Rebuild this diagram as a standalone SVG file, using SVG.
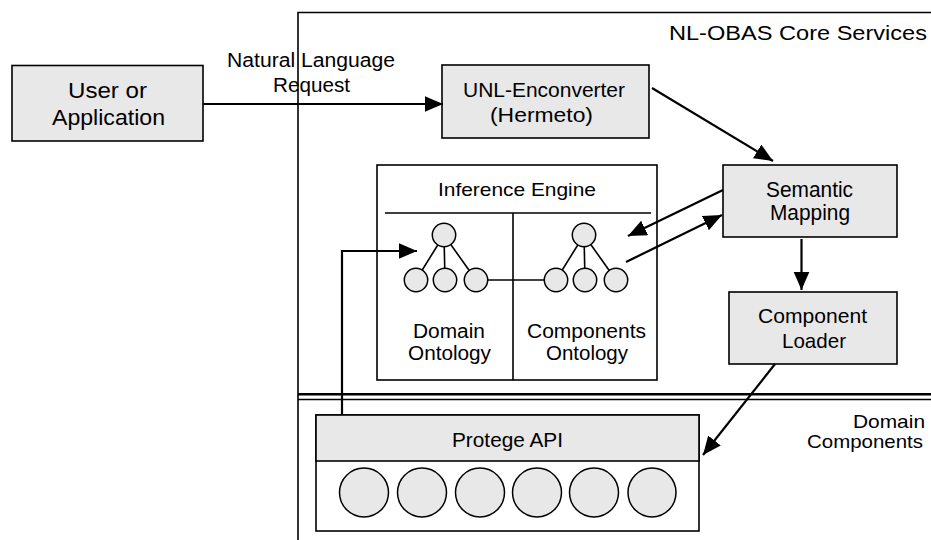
<svg xmlns="http://www.w3.org/2000/svg" width="931" height="540" viewBox="0 0 931 540">
  <style>
    .box{fill:#e8e8e8;stroke:#000;stroke-width:1.6}
    .plain{fill:#fff;stroke:#000;stroke-width:1.6}
    .node{fill:#e8e8e8;stroke:#000;stroke-width:1.5}
    .edge{stroke:#000;stroke-width:1.6;fill:none}
    .con{stroke:#000;stroke-width:2.2;fill:none}
    .t{font-family:"Liberation Sans",Arial,sans-serif;font-size:21px;fill:#000}
  </style>
  <defs>
    <marker id="arrow" markerUnits="userSpaceOnUse" markerWidth="20" markerHeight="18" refX="18.5" refY="8" orient="auto">
      <path d="M0,0 L18.5,8 L0,16 z" fill="#000"/>
    </marker>
  </defs>

  <rect width="931" height="540" fill="#fff"/>

  <!-- Core services frame and domain components separator -->
  <g id="core-services">
    <text class="t" x="669" y="40" textLength="258" lengthAdjust="spacingAndGlyphs" style="font-size:20.5px">NL-OBAS Core Services</text>
    <line x1="298" y1="394.3" x2="931" y2="394.3" stroke="#000" stroke-width="2.6"/>
    <line x1="298" y1="399.5" x2="931" y2="399.5" stroke="#000" stroke-width="1.6"/>
  </g>

  <g id="domain-components-label">
    <text class="t" x="853" y="428" textLength="72" lengthAdjust="spacingAndGlyphs" style="font-size:18.5px">Domain</text>
    <text class="t" x="807" y="448" textLength="116" lengthAdjust="spacingAndGlyphs" style="font-size:18.5px">Components</text>
  </g>

  <g id="user">
    <rect class="box" x="12" y="65.5" width="191" height="75.5"/>
    <text class="t" x="68" y="98" textLength="79" lengthAdjust="spacingAndGlyphs" style="font-size:22px">User or</text>
    <text class="t" x="52" y="125" textLength="113" lengthAdjust="spacingAndGlyphs" style="font-size:22px">Application</text>
  </g>

  <g id="unl-enconverter">
    <rect class="box" x="442" y="65" width="207" height="73"/>
    <text class="t" x="463" y="97" textLength="162" lengthAdjust="spacingAndGlyphs">UNL-Enconverter</text>
    <text class="t" x="490" y="122" textLength="103" lengthAdjust="spacingAndGlyphs">(Hermeto)</text>
  </g>

  <g id="semantic-mapping">
    <rect class="box" x="723" y="165" width="174" height="72"/>
    <text class="t" x="766" y="197" textLength="87" lengthAdjust="spacingAndGlyphs" style="font-size:21.5px">Semantic</text>
    <text class="t" x="770" y="220" textLength="80" lengthAdjust="spacingAndGlyphs" style="font-size:21.5px">Mapping</text>
  </g>

  <g id="component-loader">
    <rect class="box" x="729" y="292" width="168" height="72"/>
    <text class="t" x="758" y="323" textLength="109" lengthAdjust="spacingAndGlyphs">Component</text>
    <text class="t" x="782" y="348" textLength="64" lengthAdjust="spacingAndGlyphs">Loader</text>
  </g>

  <g id="inference-engine">
    <rect class="plain" x="377" y="165" width="280" height="215"/>
    <text class="t" x="438" y="196" textLength="158" lengthAdjust="spacingAndGlyphs" style="font-size:18.5px">Inference Engine</text>
    <line class="edge" x1="385" y1="213" x2="651" y2="213"/>
    <line class="edge" x1="513" y1="213" x2="513" y2="380"/>
    <!-- link between the two ontologies -->
    <line class="edge" x1="488" y1="280" x2="545" y2="280"/>
  </g>

  <g id="domain-ontology">
    <line class="edge" x1="444" y1="235" x2="416" y2="280"/>
    <line class="edge" x1="444" y1="235" x2="445" y2="280"/>
    <line class="edge" x1="444" y1="235" x2="476" y2="280"/>
    <circle class="node" cx="444" cy="235" r="11.7"/>
    <circle class="node" cx="416" cy="280" r="11.7"/>
    <circle class="node" cx="445" cy="280" r="11.7"/>
    <circle class="node" cx="476" cy="280" r="11.7"/>
    <text class="t" x="413" y="338" textLength="72" lengthAdjust="spacingAndGlyphs" style="font-size:19.5px">Domain</text>
    <text class="t" x="408" y="360" textLength="83" lengthAdjust="spacingAndGlyphs" style="font-size:19.5px">Ontology</text>
  </g>

  <g id="components-ontology">
    <line class="edge" x1="584" y1="235" x2="556" y2="280"/>
    <line class="edge" x1="584" y1="235" x2="585" y2="280"/>
    <line class="edge" x1="584" y1="235" x2="616" y2="280"/>
    <circle class="node" cx="584" cy="235" r="11.7"/>
    <circle class="node" cx="556" cy="280" r="11.7"/>
    <circle class="node" cx="585" cy="280" r="11.7"/>
    <circle class="node" cx="616" cy="280" r="11.7"/>
    <text class="t" x="527" y="338" textLength="119" lengthAdjust="spacingAndGlyphs" style="font-size:19.5px">Components</text>
    <text class="t" x="546" y="360" textLength="82" lengthAdjust="spacingAndGlyphs" style="font-size:19.5px">Ontology</text>
  </g>

  <g id="protege-api">
    <rect class="plain" x="316" y="415" width="383" height="116"/>
    <rect class="box" x="316" y="415" width="383" height="46"/>
    <text class="t" x="452" y="447" textLength="111" lengthAdjust="spacingAndGlyphs">Protege API</text>
    <ellipse class="node" cx="364" cy="492.5" rx="24.5" ry="24.5"/>
    <ellipse class="node" cx="422" cy="492.5" rx="24.5" ry="24.5"/>
    <ellipse class="node" cx="480" cy="492.5" rx="24.5" ry="24.5"/>
    <ellipse class="node" cx="537" cy="492.5" rx="24.5" ry="24.5"/>
    <ellipse class="node" cx="594" cy="492.5" rx="24.5" ry="24.5"/>
    <ellipse class="node" cx="652" cy="492.5" rx="24" ry="24.5"/>
  </g>

  <!-- Connectors -->
  <g id="connectors">
    <text class="t" x="227" y="67" textLength="168" lengthAdjust="spacingAndGlyphs" style="font-size:19.5px">Natural Language</text>
    <text class="t" x="273" y="92" textLength="77" lengthAdjust="spacingAndGlyphs" style="font-size:19.5px">Request</text>
    <line class="con" x1="203" y1="104" x2="443" y2="104" marker-end="url(#arrow)"/>
    <line class="con" x1="652" y1="88" x2="773" y2="161" marker-end="url(#arrow)"/>
    <line class="con" x1="723" y1="190" x2="628" y2="236" marker-end="url(#arrow)"/>
    <line class="con" x1="626" y1="262" x2="722" y2="215" marker-end="url(#arrow)"/>
    <line class="con" x1="801.5" y1="239" x2="801.5" y2="290" marker-end="url(#arrow)"/>
    <line class="con" x1="775" y1="364" x2="703" y2="455" marker-end="url(#arrow)"/>
    <polyline class="con" points="342,415 342,251 417,251" marker-end="url(#arrow)"/>
  </g>

  <!-- frame edges drawn over the request label -->
  <path class="edge" d="M298,540 V12.5 H931"/>
</svg>
